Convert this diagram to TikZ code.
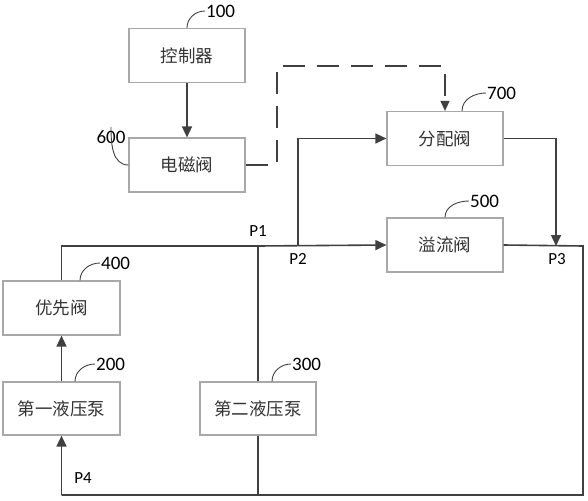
\documentclass[tikz,border=0pt]{standalone}
\usepackage{fontspec}
\newfontfamily\cjk{Noto Sans CJK SC}
\newfontfamily\lat{Carlito}
\usetikzlibrary{arrows.meta}
\definecolor{linec}{HTML}{404040}
\definecolor{boxc}{HTML}{A8A8A8}
\definecolor{txtc}{HTML}{333333}
\tikzset{
  box/.style={draw=boxc, line width=1.2pt, minimum width=116pt, minimum height=54pt, inner sep=0pt, font=\cjk\fontsize{17.5}{17.5}\selectfont, text=txtc},
  conn/.style={draw=linec, line width=1.6pt},
  arr/.style={conn, -{Triangle[length=11pt,width=10pt]}},
  dsh/.style={conn, line width=1.4pt, dash pattern=on 22pt off 12pt},
  lead/.style={draw=linec, line width=0.9pt},
  num/.style={font=\lat\fontsize{19}{19}\selectfont, text=black, inner sep=1pt, anchor=west},
  plab/.style={font=\lat\fontsize{17}{17}\selectfont, text=black, inner sep=1pt}
}
\begin{document}
\begin{tikzpicture}[x=1pt,y=-1pt]
\useasboundingbox (0,0) rectangle (588,500);
% boxes
\node[box] (ctrl) at (187,55.5) {控制器};
\node[box] (em) at (187,165) {电磁阀};
\node[box] (dist) at (445,138.5) {分配阀};
\node[box] (relief) at (445,245) {溢流阀};
\node[box, minimum width=117pt] (prio) at (61.5,308) {优先阀};
\node[box, minimum width=117pt, minimum height=53pt] (pump1) at (61.5,408.5) {第一液压泵};
\node[box, minimum height=53pt] (pump2) at (258,408.5) {第二液压泵};
% number labels
\node[num] (n100) at (205,11) {100};
\node[num, anchor=center] (n600) at (111,137) {600};
\node[num] (n700) at (486,93) {700};
\node[num] (n500) at (469,201) {500};
\node[num] (n400) at (100,263) {400};
\node[num] (n200) at (95,364) {200};
\node[num] (n300) at (291,364) {300};
% leaders
\draw[lead] (ctrl.north) to[out=90,in=180] (n100.west);
\draw[lead] (em.west) to[out=180,in=-90] ([yshift=10pt]n600.center);
\draw[lead] ([xshift=17pt]dist.north) to[out=90,in=180] (n700.west);
\draw[lead] (relief.north) to[out=90,in=180] (n500.west);
\draw[lead] ([xshift=18.5pt]prio.north) to[out=90,in=180] (n400.west);
\draw[lead] ([xshift=13.5pt]pump1.north) to[out=90,in=180] (n200.west);
\draw[lead] ([xshift=14pt]pump2.north) to[out=90,in=180] (n300.west);
% coordinates
\coordinate (jP1) at (258,246);
\coordinate (jP2) at (298,246);
\coordinate (jP3) at (556,246);
\coordinate (cTR) at (583,246);
\coordinate (cBR) at (583,495);
\coordinate (cBL) at (61.5,495);
\coordinate (jB) at (258,495);
\coordinate (d1) at (277,66);
% connectors
\draw[arr] (ctrl) -- (em);
\draw[dsh, -{Triangle[length=10pt,width=9pt]}] (em.east) -| (d1) -| (dist.north);
\draw[conn] (prio.north) |- (jP1);
\draw[arr] (jP1) -- (relief.west);
\draw[conn] (relief.east) -- (cTR) -- (cBR) -- (cBL);
\draw[arr] (cBL) -- (pump1.south);
\draw[arr] (pump1) -- (prio);
\draw[conn] (jP1) -- (pump2.north);
\draw[conn] (pump2.south) -- (jB);
\draw[arr] (jP2) |- (dist.west);
\draw[arr] (dist.east) -| (jP3);
% port labels
\node[plab] (p1) at (258,231) {P1};
\node[plab] (p2) at (298,259) {P2};
\node[plab] (p3) at (557,259) {P3};
\node[plab] (p4) at (83,478) {P4};
\end{tikzpicture}
\end{document}
